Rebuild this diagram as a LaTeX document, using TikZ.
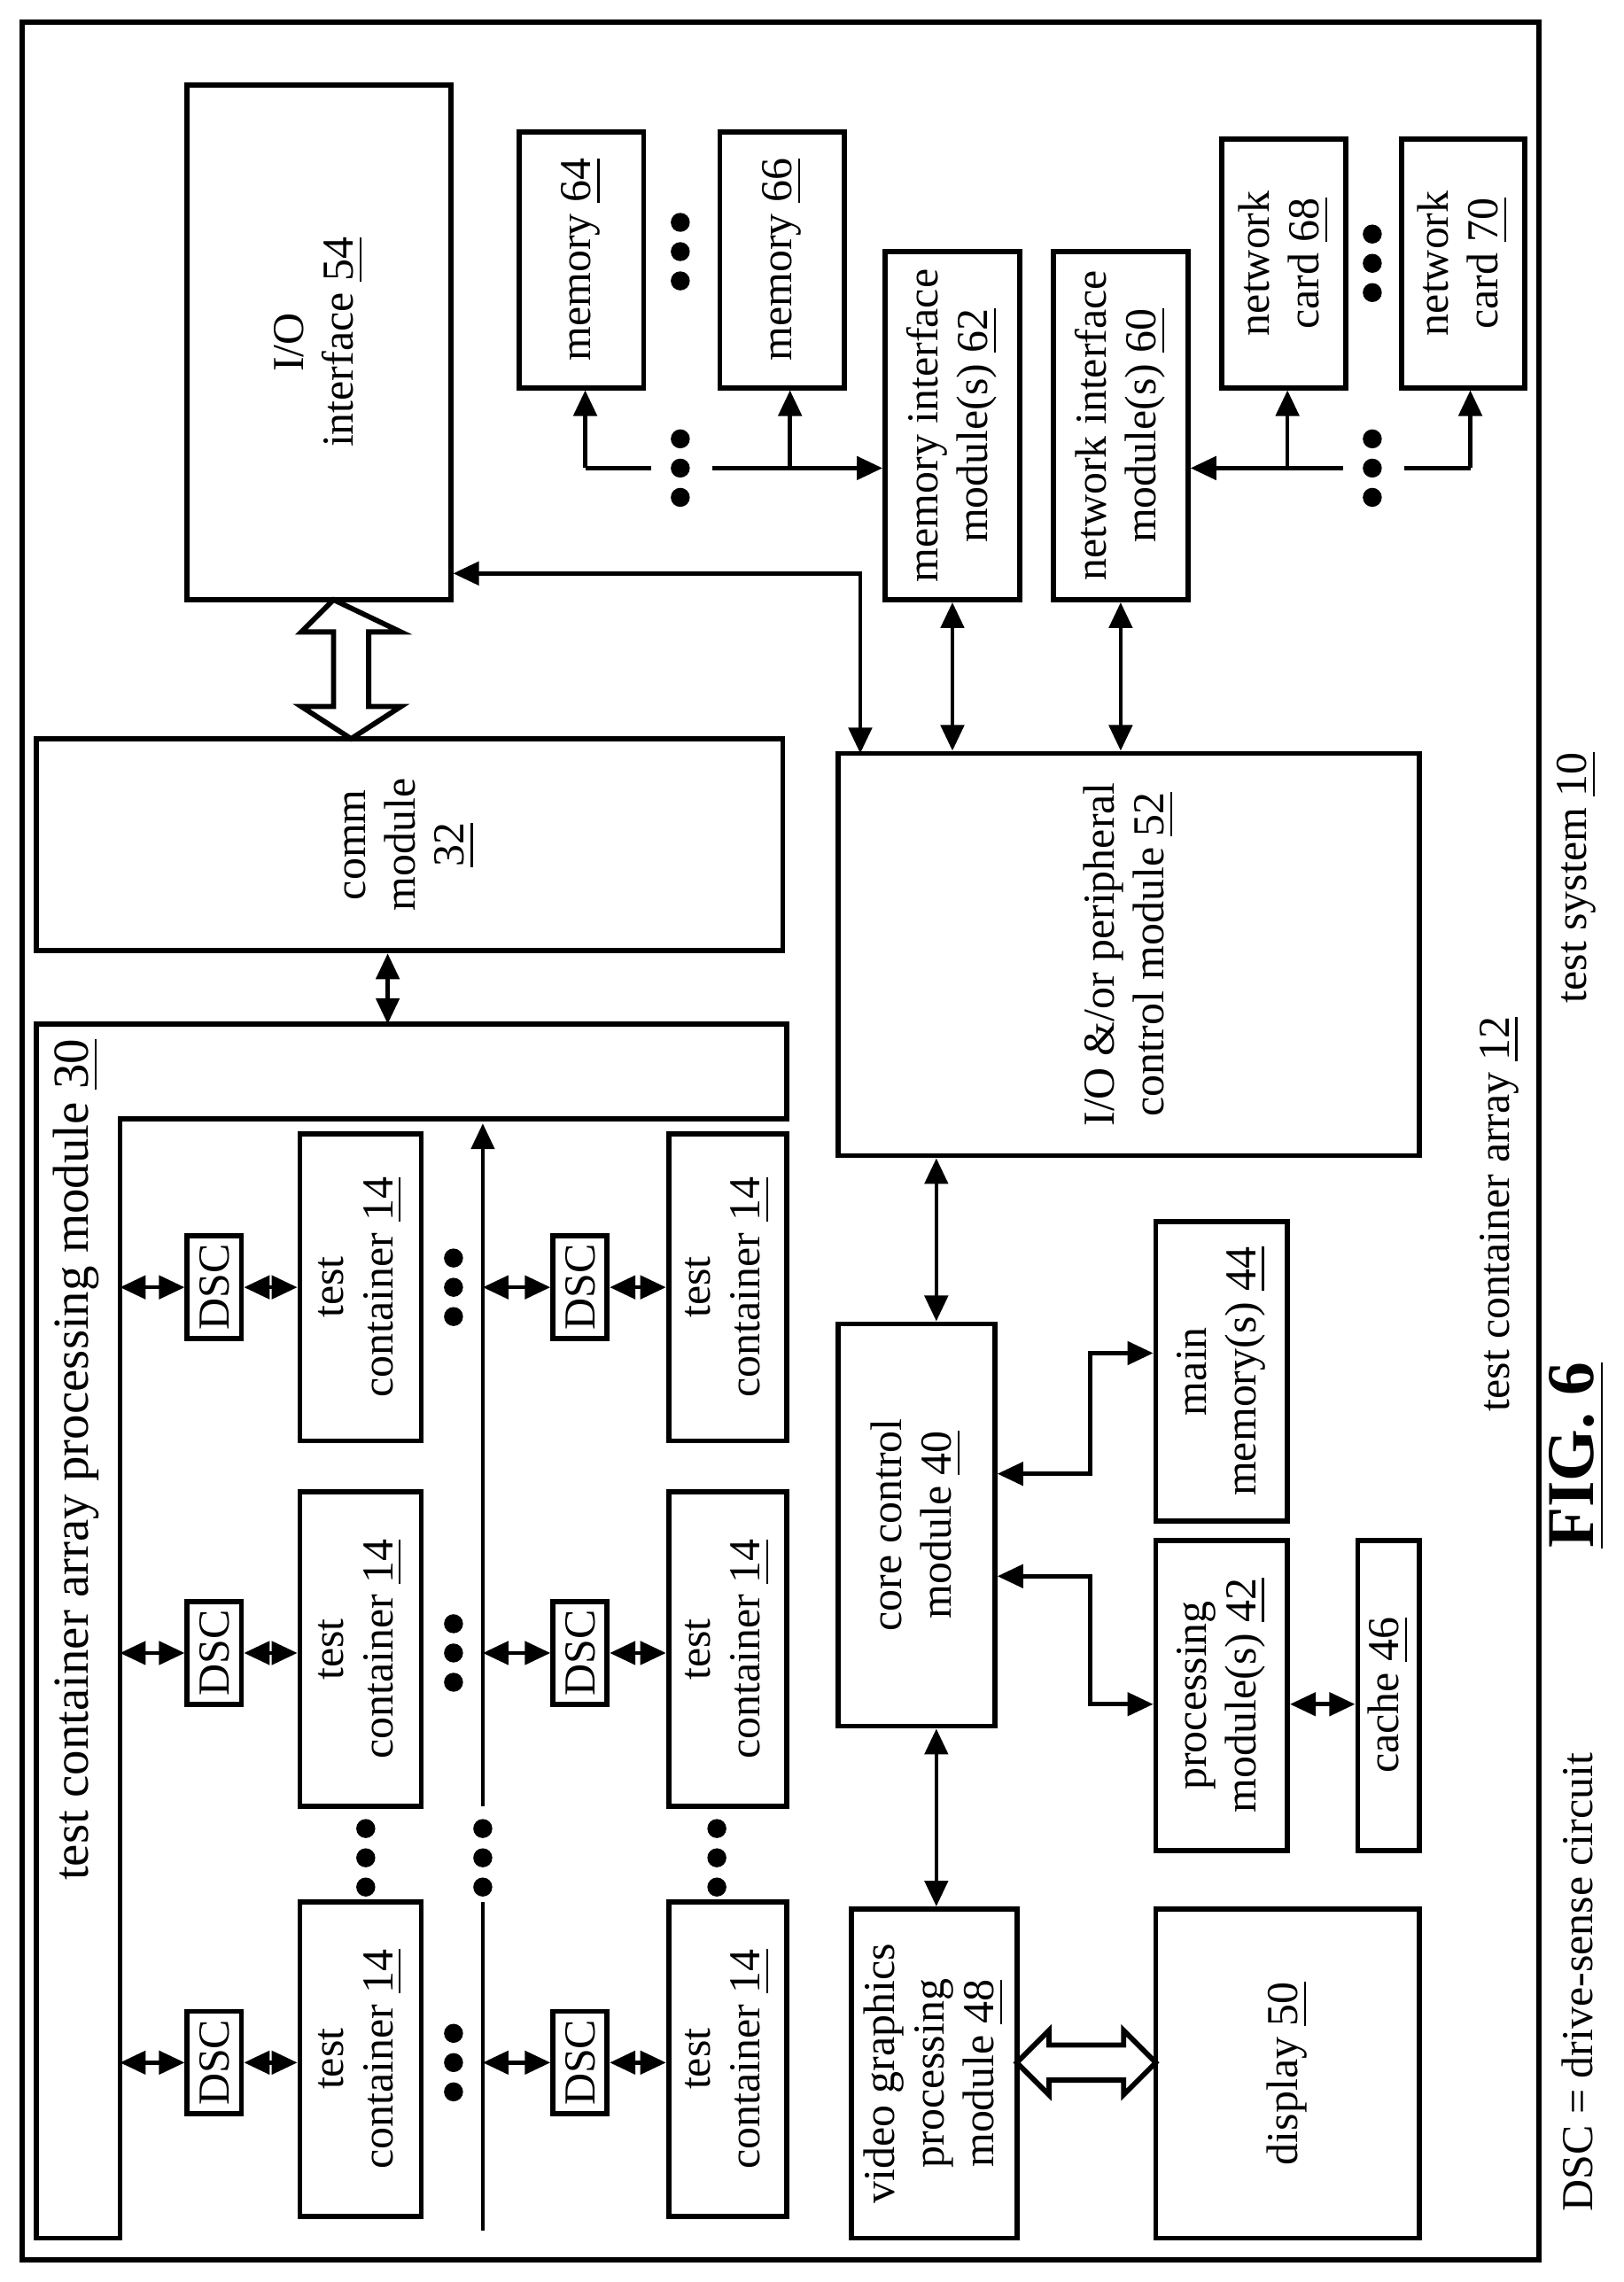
\documentclass[tikz,border=0pt]{standalone}
\usepackage{fontspec}
\setmainfont{Liberation Serif}
\usetikzlibrary{arrows.meta,calc}
\tikzset{box/.style={draw,line width=1pt,inner sep=0pt},
        lbl/.style={rotate=90,align=center,font=\fontsize{8.6}{9.6}\selectfont},
        dbl/.style={line width=0.8pt,{Triangle[length=5pt,width=4.5pt]}-{Triangle[length=5pt,width=4.5pt]}},
        one/.style={line width=0.8pt,-{Triangle[length=5pt,width=4.5pt]}}}
% box from (x1,y1) to (x2,y2) with a rotated label
\newcommand{\blk}[6]{%
  \node[box,minimum width={((#4)-(#2))*0.01cm},minimum height={((#5)-(#3))*0.01cm}]
     (#1) at ({((#2)+(#4))/2},{((#3)+(#5))/2}) {};
  \node[lbl] at (#1) {#6};}
\newcommand{\dotz}[2]{%
  \foreach \d in {-20,0,20} \fill (#1,#2+\d) circle (6.5);}
\newcommand{\ul}[1]{\underline{#1}}

\begin{document}
\begin{tikzpicture}[x=0.01cm,y=-0.01cm]
\useasboundingbox (0,0) rectangle (1110,1560);
\draw[line width=1pt] (15,15) rectangle (1052,1545);

% left side: comm, I/O, array
\blk{comm}{25}{505}{535}{650}{comm\\module\\\ul{32}}
\blk{io}{128}{58}{308}{410}{I/O\\interface \ul{54}}
\draw[line width=1pt,fill=white] (228,410) -- (206,432) -- (228,432) -- (228,483) -- (206,483)
   -- (240,505) -- (274,483) -- (252,483) -- (252,432) -- (274,432) -- cycle;
\draw[line width=1pt] (25,700) -- (538,700) -- (538,765) -- (82,765) -- (82,1530)
   -- (25,1530) -- cycle;
\node[lbl,font=\fontsize{9.8}{11}\selectfont] (tcap) at (52,998) {test container array processing module \ul{30}};
\coordinate (capin) at (265,700);
\draw[dbl] (comm.south -| capin) -- (capin);

% test containers and DSCs
\foreach \r/\yc/\ya/\yb in {1/1410/1300/1515,2/1130/1020/1235,3/880/775/985}{
  \blk{dscA\r}{128}{\yc-35}{165}{\yc+35}{DSC}
  \blk{tcA\r}{205}{\ya}{288}{\yb}{test\\container \ul{14}}
  \draw[dbl] (82,\yc) -- (dscA\r.west);
  \draw[dbl] (dscA\r.east) -- (tcA\r.west |- dscA\r.east);
  \blk{dscB\r}{378}{\yc-35}{415}{\yc+35}{DSC}
  \blk{tcB\r}{457}{\ya}{538}{\yb}{test\\container \ul{14}}
  \draw[dbl] (330,\yc) -- (dscB\r.west);
  \draw[dbl] (dscB\r.east) -- (tcB\r.west |- dscB\r.east);
  \dotz{310}{\yc}
}
\draw[line width=0.8pt] (330,1525) -- (330,1300);
\draw[one] (330,1235) -- (330,768);
\dotz{250}{1270} \dotz{330}{1270} \dotz{490}{1270}

% core side
\blk{core}{573}{905}{680}{1180}{core control\\module \ul{40}}
\blk{ioc}{573}{515}{970}{790}{I/O \&/or peripheral\\control module \ul{52}}
\blk{mm}{790}{835}{880}{1040}{main\\memory(s) \ul{44}}
\blk{pm}{790}{1053}{880}{1265}{processing\\module(s) \ul{42}}
\blk{cache}{928}{1053}{970}{1265}{cache \ul{46}}
\blk{vgp}{582}{1305}{695}{1530}{video graphics\\processing\\module \ul{48}}
\blk{disp}{790}{1305}{970}{1530}{display \ul{50}}
\coordinate (cx) at (640,0);
\draw[dbl] (ioc.south -| cx) -- (core.north -| cx);
\draw[dbl] (core.south -| cx) -- (vgp.north -| cx);
\draw[dbl] ($(core.east)+(0,-35)$) -| (745,925) -- (mm.west |- 0,925);
\draw[dbl] ($(core.east)+(0,35)$) -| (745,1165) -- (pm.west |- 0,1165);
\draw[dbl] (pm.east |- 0,1165) -- (cache.west |- 0,1165);
\draw[line width=1pt,fill=white] (695,1410) -- (717,1388) -- (717,1398) -- (768,1398) -- (768,1388)
   -- (790,1410) -- (768,1432) -- (768,1422) -- (717,1422) -- (717,1432) -- cycle;

% memory and network
\blk{mif}{605}{172}{697}{410}{memory interface\\module(s) \ul{62}}
\blk{nif}{720}{172}{812}{410}{network interface\\module(s) \ul{60}}
\draw[dbl] (ioc.north -| mif) -- (mif.south);
\draw[dbl] (ioc.north -| nif) -- (nif.south);
\draw[dbl] (588,515) -- (588,392) -- (io.east |- 0,392);
\blk{mem64}{355}{90}{440}{265}{memory \ul{64}}
\blk{mem66}{492}{90}{577}{265}{memory \ul{66}}
\blk{nc68}{835}{95}{920}{265}{network\\card \ul{68}}
\blk{nc70}{958}{95}{1042}{265}{network\\card \ul{70}}
\dotz{465}{172} \dotz{938}{180}
\draw[one] (400,320) -- (mem64.south -| 400,0);
\draw[line width=0.8pt] (400,320) -- (445,320);
\draw[one] (487,320) -- (mif.west |- 0,320);
\draw[one] (540,320) -- (mem66.south -| 540,0);
\dotz{465}{320}
\draw[one] (918,320) -- (nif.east |- 0,320);
\draw[one] (880,320) -- (nc68.south -| 880,0);
\draw[line width=0.8pt] (960,320) -- (1005,320);
\draw[one] (1005,320) -- (nc70.south -| 1005,0);
\dotz{938}{320}

% captions
\node[lbl] (tca) at (1025,830) {test container array \ul{12}};
\node[lbl] (ts) at (1078,600) {test system \ul{10}};
\node[lbl,font=\fontsize{13}{15}\selectfont\bfseries] (fig) at (1078,995) {\ul{FIG. 6}};
\node[lbl] (dsc) at (1078,1355) {DSC = drive-sense circuit};
\end{tikzpicture}
\end{document}
